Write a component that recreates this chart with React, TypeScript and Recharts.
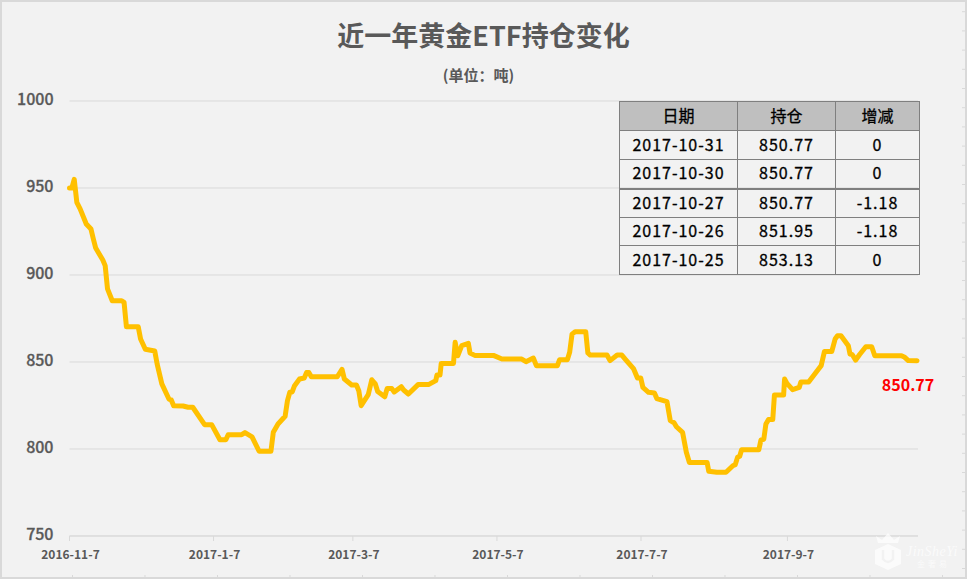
import { LineChart, Line, XAxis, YAxis, CartesianGrid } from "recharts";

const FONT = '"Noto Sans CJK SC", "Noto Sans", sans-serif';

// days since 2016-11-7
const dayOffsets = [
  0, 1, 2, 3.1, 4.5, 7.1, 9.1, 10.1, 11.1, 14.1, 15.1, 16.1, 18.1, 22.1, 23.1, 24.1, 29.1, 30.1, 32.1, 36.1,
  37.1, 39.1, 42.1, 43.1, 44.1, 48.1, 50.2, 52.2, 57.2, 60.2, 63.7, 66.2, 67.2, 72.9, 74.3, 77.3, 80.3, 85.3,
  86.3, 88.3, 91.3, 92.3, 93.3, 94.3, 95.3, 97.4, 99.4, 100.4, 101.4, 102.4, 106.2, 113.4, 115.4, 116.4, 119.5,
  121.5, 122.5, 123.5, 126.5, 128, 129.5, 130.5, 133.5, 134.5, 136.5, 137.5, 140.5, 141.5, 143.5, 147.6, 152,
  155.1, 155.6, 156.9, 157.4, 162.6, 163.3, 164.4, 166.1, 168.9, 169.6, 171.6, 179.5, 183.1, 191.5, 193.3,
  196.4, 197.7, 206.6, 207.5, 210.8, 211.8, 212.8, 214.1, 218.6, 219.5, 220.5, 227.6, 228.9, 231.9, 233.2,
  233.9, 235.3, 238.9, 240.5, 241.9, 242.8, 245.2, 247.7, 248.7, 253, 254.4, 256, 257, 259.6, 261.2, 262.5,
  270, 270.7, 274.1, 278, 280.9, 281.9, 282.9, 283.8, 284.6, 291.9, 292.8, 294, 294.9, 296, 297.8, 298.5,
  302.4, 302.8, 303.8, 306.2, 309, 309.7, 313, 317.2, 318.3, 319.7, 322.8, 324.2, 325.2, 326.7, 329.8, 330.5,
  331.5, 332.9, 334.5, 337.2, 339.7, 341, 352.3, 353.7, 355.2, 358.9,
];

const holdings = [
  950, 950, 955, 941.8, 938, 929.3, 926.4, 920.7, 915.5, 908.6, 905.4, 892, 885.2, 885.2, 884.3, 870.3, 870.3,
  863.2, 857.3, 856.3, 848.9, 837.4, 828.7, 828.2, 824.9, 824.7, 824, 824, 814, 814, 805.3, 805.3, 808.2, 808.2,
  809.4, 807, 798.7, 798.7, 809.6, 814.4, 818.8, 827.8, 832.6, 832.8, 836.4, 840.2, 840.8, 843.9, 843.9, 841.5,
  841.5, 841.5, 845.8, 840.2, 836.8, 836.8, 833.5, 824.9, 831.2, 839.8, 837.4, 833, 830, 834.7, 834.7, 832.8,
  835.8, 833.9, 831.6, 837, 837, 839.3, 842.5, 842.5, 849.2, 849.2, 861.3, 853.6, 859.4, 860.7, 855.2, 853.8,
  853.8, 851.7, 851.7, 850.2, 852.3, 847.9, 847.9, 851.3, 851.3, 855.6, 866, 867.4, 867.4, 855.2, 854, 854,
  850.8, 854, 854, 854, 851.7, 846, 840.8, 840.8, 835.4, 832.6, 832.2, 829, 827.2, 816.3, 815.1, 812.8, 809.6,
  798.1, 792.2, 792.2, 787.2, 786.6, 786.6, 790.4, 791, 795.2, 795.8, 799.6, 799.6, 805.2, 805.6, 814.4, 816.9,
  816.9, 831, 831, 840.2, 837.7, 834.1, 835.4, 838.5, 838.5, 846, 847.9, 856.1, 856.1, 863.2, 865.1, 865.1,
  859.4, 854.6, 854.2, 851.1, 854.2, 858.8, 858.8, 853.6, 853.6, 852.7, 850.8, 850.77,
];

const xTicks = [0, 61, 120, 181, 242, 304];
const xTickLabels = ["2016-11-7", "2017-1-7", "2017-3-7", "2017-5-7", "2017-7-7", "2017-9-7"];
const yTicks = [750, 800, 850, 900, 950, 1000];

const tableHead = ["日期", "持仓", "增减"];
const tableDates = ["2017-10-31", "2017-10-30", "2017-10-27", "2017-10-26", "2017-10-25"];
const tableHoldings = ["850.77", "850.77", "850.77", "851.95", "853.13"];
const tableChanges = ["0", "0", "-1.18", "-1.18", "0"];
const columnWidths = [118, 98, 84];
const rowHeights = [29, 29, 29, 28, 29];

const chartData = dayOffsets.map((day, i) => ({ day, value: holdings[i] }));

const lastLabel = (props: any) => {
  if (props.index !== chartData.length - 1) return null;
  return (
    <text x={props.x - 9} y={props.y + 30} textAnchor="middle" fill="#FF0000" fontFamily={FONT} fontWeight={700} fontSize={16}>
      850.77
    </text>
  );
};

const cellStyle = (head: boolean, thickTop = false): React.CSSProperties => ({
  padding: "0 0 3px 0",
  boxSizing: "border-box",
  border: "1px solid #7F7F7F",
  borderTop: thickTop ? "2px solid #7F7F7F" : "1px solid #7F7F7F",
  textAlign: "center",
  background: head ? "#BFBFBF" : "transparent",
  fontWeight: 400,
  letterSpacing: head ? 0 : 1,
  WebkitTextStroke: "0.3px #000",
  overflow: "hidden",
});

export default function App() {
  return (
    <div
      style={{
        position: "absolute",
        left: 0,
        top: 0,
        width: 967,
        height: 579,
        background: "#F2F2F2",
        boxSizing: "border-box",
        border: "2px solid #D9D9D9",
        overflow: "hidden",
        fontFamily: FONT,
      }}
    >
      <LineChart
        width={967}
        height={579}
        data={chartData}
        margin={{ top: 100, right: 49, bottom: 14, left: 0 }}
        style={{ position: "absolute", left: -2, top: -1.5 }}
      >
        <CartesianGrid vertical={false} stroke="#D9D9D9" />
        <XAxis
          dataKey="day"
          type="number"
          domain={[0, 359.3]}
          ticks={xTicks}
          tickFormatter={(v: number) => xTickLabels[xTicks.indexOf(v)]}
          height={30}
          interval={0}
          stroke="#D9D9D9"
          tickSize={5}
          tickMargin={9}
          tick={{ fill: "#595959", fontSize: 12, fontWeight: 700, fontFamily: FONT, dx: 1 }}
        />
        <YAxis
          domain={[750, 1000]}
          ticks={yTicks}
          width={69.5}
          axisLine={false}
          tickLine={false}
          tickMargin={10}
          tick={{ fill: "#595959", stroke: "#595959", strokeWidth: 0.3, fontSize: 16, fontWeight: 500, fontFamily: FONT, dy: -1.5 }}
        />
        <Line
          dataKey="value"
          type="linear"
          stroke="#FFC000"
          strokeWidth={5}
          strokeLinejoin="round"
          strokeLinecap="round"
          dot={false}
          label={lastLabel}
          isAnimationActive={false}
        />
      </LineChart>

      <div style={{ position: "absolute", left: -2, top: 14, width: 967, textAlign: "center", fontSize: 27, lineHeight: "38px", fontWeight: 700, color: "#595959" }}>
        近一年黄金ETF持仓变化
      </div>
      <div style={{ position: "absolute", left: -7, top: 63, width: 967, textAlign: "center", fontSize: 15, lineHeight: "20px", fontWeight: 700, color: "#595959" }}>
        (单位：吨)
      </div>

      <table
        style={{
          position: "absolute",
          left: 617,
          top: 99,
          width: 300,
          borderCollapse: "collapse",
          tableLayout: "fixed",
          fontFamily: FONT,
          fontSize: 16,
          color: "#000",
        }}
      >
        <colgroup>
          {columnWidths.map((w) => (
            <col key={w} style={{ width: w }} />
          ))}
        </colgroup>
        <tbody>
          <tr style={{ height: 29 }}>
            {tableHead.map((h) => (
              <td key={h} style={cellStyle(true)}>{h}</td>
            ))}
          </tr>
          {tableDates.map((d, i) => (
            <tr key={d} style={{ height: rowHeights[i] }}>
              <td style={cellStyle(false, i === 2)}>{d}</td>
              <td style={cellStyle(false, i === 2)}>{tableHoldings[i]}</td>
              <td style={cellStyle(false, i === 2)}>{tableChanges[i]}</td>
            </tr>
          ))}
        </tbody>
      </table>

      {/* watermark */}
      <svg width={90} height={42} style={{ position: "absolute", left: 873, top: 530 }}>
        <path d="M1 4 L7 8 L13 1 L19 8 L25 4 L23 11 L3 11 Z" fill="#fff" opacity={0.7} />
        <path d="M13 12 L26 18 L26 32 L13 38 L0 32 L0 18 Z" fill="#fff" opacity={0.7} />
        <path d="M8 18 L8 27 Q13 33 18 27 L18 18" fill="none" stroke="#F2F2F2" strokeWidth={2.5} />
        <text x={31} y={24} fill="#fff" opacity={0.7} fontFamily="Liberation Serif" fontStyle="italic" fontSize={14} letterSpacing={0.5}>JinSheYi</text>
        <text x={42} y={35} fill="#fff" opacity={0.7} fontFamily={FONT} fontSize={8} letterSpacing={3}>金奢易</text>
      </svg>

      {/* small frame ticks along the bottom and right edges */}
      <svg width={967} height={579} style={{ position: "absolute", left: -2, top: -2, pointerEvents: "none" }}>
        {Array.from({ length: 13 }, (_, k) => (
          <line key={`b${k}`} x1={72.5 * (k + 1)} x2={72.5 * (k + 1)} y1={575} y2={577} stroke="#D9D9D9" />
        ))}
        {Array.from({ length: 30 }, (_, k) => (
          <line key={`r${k}`} x1={962} x2={965} y1={11.7 + 19.2 * k} y2={11.7 + 19.2 * k} stroke="#D9D9D9" />
        ))}
      </svg>
    </div>
  );
}
